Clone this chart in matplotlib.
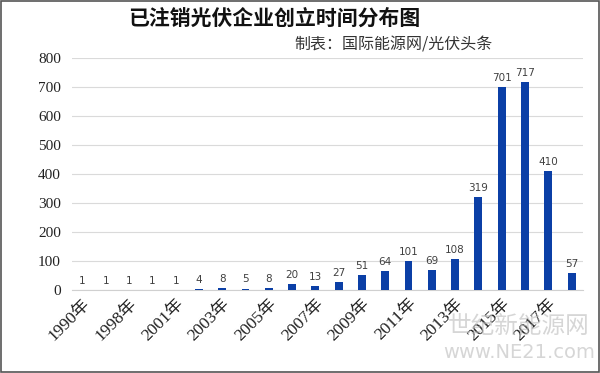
import matplotlib.pyplot as plt
import numpy as np

plt.rcParams['font.family'] = ['Noto Sans CJK SC', 'DejaVu Sans']

years = ['1990年', '1995年', '1998年', '2000年', '2001年', '2002年', '2003年', '2004年',
         '2005年', '2006年', '2007年', '2008年', '2009年', '2010年', '2011年', '2012年',
         '2013年', '2014年', '2015年', '2016年', '2017年', '2018年']
counts = [1, 1, 1, 1, 1, 4, 8, 5, 8, 20, 13, 27, 51, 64, 101, 69, 108, 319, 701, 717, 410, 57]
y_ticks = [0, 100, 200, 300, 400, 500, 600, 700, 800]

title = '已注销光伏企业创立时间分布图'
source = '制表：国际能源网/光伏头条'

fig = plt.figure(figsize=(6, 3.73), dpi=100)
ax = fig.add_axes([0.12, 0.2225, 0.852, 0.622])

x = np.arange(len(years))
ax.bar(x, counts, width=0.34, color='#0b3fa6', zorder=3)
for xi, v in zip(x, counts):
    ax.text(xi, v + 14, str(v), ha='center', va='bottom', fontsize=7.5,
            color='#404040', family=['DejaVu Sans'])

ax.set_xlim(-0.45, len(years) - 0.5)
ax.set_ylim(0, 800)
ax.set_yticks(y_ticks)
ax.set_yticklabels([str(t) for t in y_ticks], family=['Liberation Serif'], fontsize=11,
                   color='#222222')
ax.yaxis.grid(True, color='#dadada', linewidth=0.8, zorder=0)
ax.tick_params(length=0, pad=8)
ax.tick_params(axis='x', pad=4)
for s in ['top', 'right', 'left']:
    ax.spines[s].set_visible(False)
ax.spines['bottom'].set_color('#d0d0d0')

ax.set_xticks(x[::2])
ax.set_xticklabels(years[::2], rotation=45, ha='right', rotation_mode='anchor',
                   family=['Liberation Serif', 'Noto Sans CJK SC'], fontsize=12.5,
                   color='#222222')

fig.text(0.457, 0.952, title, ha='center', va='center', fontsize=15, fontweight='bold',
         color='#111111')
fig.text(0.655, 0.88, source, ha='center', va='center', fontsize=11.5, color='#333333')

# watermark
fig.text(0.865, 0.125, '世纪新能源网', ha='center', va='center', fontsize=17,
         color='#bbbbbb', alpha=0.6)
fig.text(0.865, 0.055, 'www.NE21.com', ha='center', va='center', fontsize=14,
         color='#bbbbbb', alpha=0.6, family=['DejaVu Sans'])

fig.patches.append(plt.Rectangle((0.002, 0.003), 0.996, 0.994, transform=fig.transFigure,
                                 fill=False, edgecolor='#555555', linewidth=1.2))

fig.savefig('out.png', dpi=100)
